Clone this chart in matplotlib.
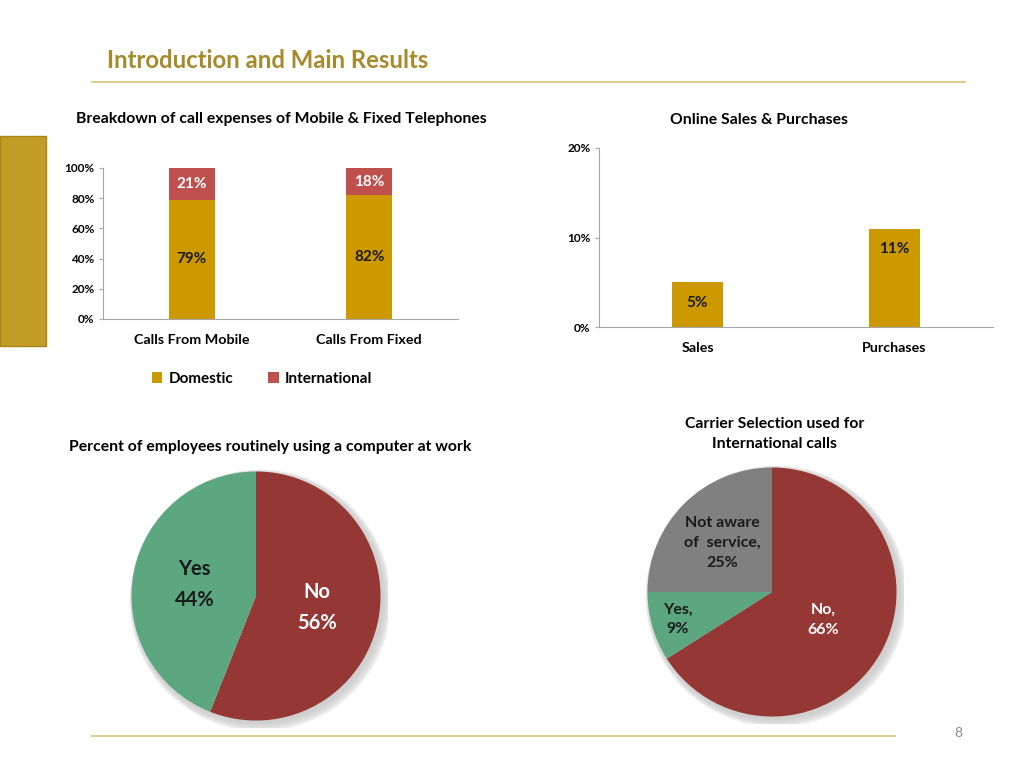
import numpy as np
import matplotlib.pyplot as plt
from matplotlib.patches import Rectangle, Circle
from matplotlib.lines import Line2D

plt.rcParams['font.family'] = ['Lato', 'DejaVu Sans']
plt.rcParams['font.weight'] = 'bold'
plt.rcParams['axes.titleweight'] = 'bold'

# data
call_groups = ['Calls From Mobile', 'Calls From Fixed']
domestic = [0.79, 0.82]
international = [0.21, 0.18]

online_groups = ['Sales', 'Purchases']
online_vals = [0.05, 0.11]

computer_labels = ['No', 'Yes']
computer_vals = [56, 44]

carrier_labels = ['No,', 'Yes,', 'Not aware\nof  service,']
carrier_vals = [66, 9, 25]

GOLD = '#CC9900'
RED = '#C0504D'
DARKRED = '#953735'
GREEN = '#5CA77F'
GREY = '#808080'
W, H = 1024, 768


def box(x0, y0, x1, y1):
    # pixel box (top-left origin) -> figure fraction
    return [x0 / W, 1 - y1 / H, (x1 - x0) / W, (y1 - y0) / H]


fig = plt.figure(figsize=(10.24, 7.68), dpi=100)

# slide decoration
fig.text(107 / W, 1 - 61 / H, 'Introduction and Main Results', fontsize=17.2,
         color='#A88A2C', va='center', ha='left')
fig.add_artist(Line2D([92 / W, 965 / W], [1 - 82 / H] * 2, color='#D8C478', lw=1.2))
fig.add_artist(Line2D([92 / W, 895 / W], [1 - 736 / H] * 2, color='#D8C478', lw=1.2))
fig.add_artist(Rectangle((0, 1 - 346 / H), 46 / W, 210 / H, transform=fig.transFigure,
                         facecolor='#C29D25', edgecolor='#A8861C', lw=1))
fig.text(958 / W, 1 - 733 / H, '8', fontsize=10, color='#8C8C8C', ha='center',
         va='center', fontweight='normal')


def style_bar_axes(ax):
    for s in ['top', 'right']:
        ax.spines[s].set_visible(False)
    ax.spines['left'].set_color('#A6A6A6')
    ax.spines['bottom'].set_color('#A6A6A6')
    ax.tick_params(axis='y', length=3, color='#A6A6A6', labelsize=8.5, pad=3)
    ax.tick_params(axis='x', length=0, labelsize=10.3, pad=11)
    ax.set_facecolor('none')


# chart 1: stacked bars
ax1 = fig.add_axes(box(103, 168, 458, 319))
x = np.arange(len(call_groups))
b1 = ax1.bar(x, domestic, width=0.26, color=GOLD, label='Domestic')
b2 = ax1.bar(x, international, width=0.26, bottom=domestic, color=RED, label='International')
ax1.bar_label(b1, labels=[f'{v:.0%}' for v in domestic], label_type='center',
              fontsize=11, color='#1A1A1A')
ax1.bar_label(b2, labels=[f'{v:.0%}' for v in international], label_type='center',
              fontsize=11, color='white')
ax1.set_xlim(-0.5, 1.5)
ax1.set_ylim(0, 1)
ax1.set_yticks(np.arange(0, 1.01, 0.2))
ax1.set_yticklabels([f'{int(round(v * 100))}%' for v in np.arange(0, 1.01, 0.2)])
ax1.set_xticks(x)
ax1.set_xticklabels(call_groups)
style_bar_axes(ax1)
ax1.set_title('Breakdown of call expenses of Mobile & Fixed Telephones', fontsize=11.3,
              x=(281 - 103) / 355, y=1.24)
fig.legend(handles=[b1, b2], loc='center', bbox_to_anchor=(262 / W, 1 - 379 / H), ncol=2,
           frameon=False, fontsize=11, handlelength=0.7, handleheight=0.7,
           handletextpad=0.4, columnspacing=2.3)

# chart 2: online sales
ax2 = fig.add_axes(box(599, 148, 993, 327))
x2 = np.arange(len(online_groups))
b3 = ax2.bar(x2, online_vals, width=0.26, color=GOLD)
ax2.bar_label(b3, labels=[f'{v:.0%}' for v in online_vals], padding=-20,
              fontsize=11, color='#1A1A1A')
ax2.set_xlim(-0.5, 1.5)
ax2.set_ylim(0, 0.2)
ax2.set_yticks([0, 0.1, 0.2])
ax2.set_yticklabels(['0%', '10%', '20%'])
ax2.set_xticks(x2)
ax2.set_xticklabels(online_groups)
style_bar_axes(ax2)
ax2.set_title('Online Sales & Purchases', fontsize=11.3, x=(759 - 599) / 394, y=1.09)


def draw_pie(ax, vals, labels, colors, dists, tcolors, fsize, lsp):
    for i, a in enumerate(np.linspace(0.12, 0.02, 6)):
        ax.add_patch(Circle((0.035 - 0.004 * i, -0.035 + 0.004 * i), 1.0 + 0.01 * (5 - i),
                            color='#7F7F7F', alpha=a, zorder=0, lw=0))
    wedges, _ = ax.pie(vals, colors=colors, startangle=90, counterclock=False, radius=1,
                       wedgeprops=dict(linewidth=0))
    for w, lab, v, d, c in zip(wedges, labels, vals, dists, tcolors):
        ang = np.deg2rad((w.theta1 + w.theta2) / 2)
        ax.text(d * np.cos(ang), d * np.sin(ang), f'{lab}\n{v}%', ha='center', va='center',
                fontsize=fsize, color=c, linespacing=lsp)
    ax.set_xlim(-1.06, 1.06)
    ax.set_ylim(-1.06, 1.06)
    ax.set_aspect('equal')
    ax.axis('off')


# chart 3: computer usage pie
ax3 = fig.add_axes(box(124, 464, 388, 728))
draw_pie(ax3, computer_vals, computer_labels, [DARKRED, GREEN], [0.5, 0.5],
         ['white', '#1A1A1A'], 14.5, 1.65)
fig.text(270 / W, 1 - 447 / H, 'Percent of employees routinely using a computer at work',
         fontsize=11.3, ha='center', va='center')

# chart 4: carrier selection pie
ax4 = fig.add_axes(box(640, 460, 904, 724))
draw_pie(ax4, carrier_vals, carrier_labels, [DARKRED, GREEN, GREY], [0.47, 0.79, 0.56],
         ['white', '#1A1A1A', '#1A1A1A'], 11.5, 1.55)
fig.text(775 / W, 1 - 434 / H, 'Carrier Selection used for\nInternational calls',
         fontsize=11.3, ha='center', va='center', linespacing=1.5)

fig.savefig('out.png', dpi=100)
